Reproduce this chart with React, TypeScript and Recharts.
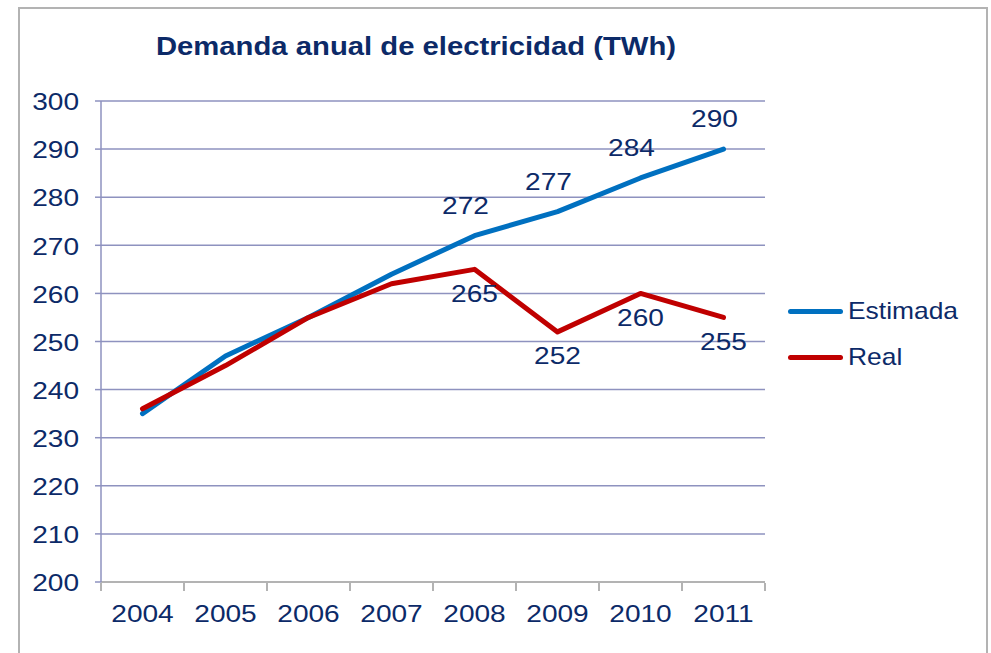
import { LineChart, Line, XAxis, YAxis, CartesianGrid, Legend, LabelList } from "recharts";

const years = ["2004", "2005", "2006", "2007", "2008", "2009", "2010", "2011"];
const estimada = [235, 247, 255, 264, 272, 277, 284, 290];
const real = [236, 245, 255, 262, 265, 252, 260, 255];
const yTicks = [200, 210, 220, 230, 240, 250, 260, 270, 280, 290, 300];

const data = years.map((year, i) => ({ x: i, year, estimada: estimada[i], real: real[i] }));
const xTicks = years.flatMap((_, i) => [i - 0.5, i]).concat([years.length - 0.5]);

const NAVY = "#0c2a68";
const FONT = "'Liberation Sans', Arial, sans-serif";
const SX = 1.17;

function XTick(props: any) {
  const { x, y, payload } = props;
  const v = payload.value as number;
  if (!Number.isInteger(v)) {
    return <line x1={x} x2={x} y1={y - 7} y2={y + 1} stroke="#b3b3b3" strokeWidth={2} />;
  }
  return (
    <text transform={`translate(${x},${y + 24}) scale(${SX},1)`} textAnchor="middle" dominantBaseline="central"
      fill={NAVY} fontSize={24} fontFamily={FONT}>
      {years[v]}
    </text>
  );
}

function YTick(props: any) {
  const { y, payload } = props;
  return (
    <g>
      <line x1={95} x2={101} y1={y} y2={y} stroke="#8e92bf" strokeWidth={1.5} />
      <text transform={`translate(79,${y + 1}) scale(${SX},1)`} textAnchor="end" dominantBaseline="central"
        fill={NAVY} fontSize={24} fontFamily={FONT}>
        {payload.value}
      </text>
    </g>
  );
}

function makeLabel(dx: number, dy: number) {
  return (props: any) => {
    const { x, y, value, index } = props;
    if (index < 4) return null;
    return (
      <text transform={`translate(${x + dx},${y + dy}) scale(${SX},1)`} textAnchor="middle" dominantBaseline="central"
        fill={NAVY} fontSize={24} fontFamily={FONT}>
        {value}
      </text>
    );
  };
}

function LegendBox() {
  const items = [
    { name: "Estimada", color: "#0070c0" },
    { name: "Real", color: "#c00000" },
  ];
  return (
    <div>
      {items.map((it) => (
        <div key={it.name} style={{ display: "flex", alignItems: "center", height: 46 }}>
          <span style={{ display: "inline-block", width: 55, height: 5, borderRadius: 3, background: it.color }} />
          <span style={{ marginLeft: 5, fontFamily: FONT, fontSize: 24, color: NAVY, transform: "scaleX(1.1)", transformOrigin: "left center", display: "inline-block" }}>
            {it.name}
          </span>
        </div>
      ))}
    </div>
  );
}

export default function App() {
  return (
    <div style={{ position: "absolute", left: 0, top: 0, width: 991, height: 653, overflow: "hidden", background: "#fff" }}>
      <div style={{ position: "absolute", left: 18, top: 7, width: 966, height: 700, border: "2px solid #b3b3b3" }} />
      <div style={{ position: "absolute", left: 0, top: 32, width: 832, textAlign: "center", fontFamily: FONT, fontSize: 25, fontWeight: "bold", color: NAVY, transform: `scaleX(${SX})`, transformOrigin: "416px center" }}>
        Demanda anual de electricidad (TWh)
      </div>
      <LineChart width={991} height={653} data={data} margin={{ top: 101, right: 226, left: 0, bottom: 31 }}>
        <CartesianGrid vertical={false} stroke="#8e92bf" strokeWidth={1.5} />
        <XAxis dataKey="x" type="number" domain={[-0.5, 7.5]} ticks={xTicks} interval={0} height={40}
          axisLine={{ stroke: "#b3b3b3", strokeWidth: 2 }} tickLine={false} tick={<XTick />} />
        <YAxis domain={[200, 300]} ticks={yTicks} width={101} interval={0}
          axisLine={{ stroke: "#8e92bf", strokeWidth: 1.5 }} tickLine={false} tick={<YTick />} />
        <Legend layout="vertical" align="center" verticalAlign="middle" content={<LegendBox />}
          wrapperStyle={{ position: "absolute", left: 788, top: 288, width: 200 }} />
        <Line dataKey="estimada" name="Estimada" stroke="#0070c0" strokeWidth={5} dot={false}
          strokeLinecap="round" strokeLinejoin="round" isAnimationActive={false}>
          <LabelList dataKey="estimada" content={makeLabel(-9, -30)} />
        </Line>
        <Line dataKey="real" name="Real" stroke="#c00000" strokeWidth={5} dot={false}
          strokeLinecap="round" strokeLinejoin="round" isAnimationActive={false}>
          <LabelList dataKey="real" content={makeLabel(0, 24)} />
        </Line>
      </LineChart>
    </div>
  );
}
